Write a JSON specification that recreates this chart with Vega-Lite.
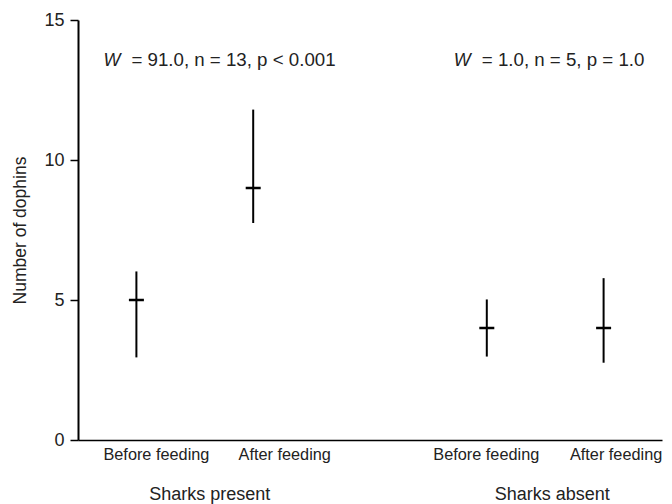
{
  "$schema": "https://vega.github.io/schema/vega-lite/v6.json",
  "width": 584,
  "height": 420,
  "autosize": {"type": "none"},
  "padding": {"left": 78, "top": 20, "right": 10, "bottom": 64},
  "background": "white",
  "config": {
    "view": {"stroke": null},
    "font": "Liberation Sans",
    "axis": {"grid": false, "domainColor": "#000", "tickColor": "#000", "labelColor": "#222", "titleColor": "#222", "labelFont": "Liberation Sans", "titleFont": "Liberation Sans", "titleFontWeight": "normal"}
  },
  "datasets": {
    "stats": [
      {"slot": "SP-B", "cond": "Before feeding", "group": "Sharks present", "median": 5, "low": 2.95, "high": 6.02},
      {"slot": "SP-A", "cond": "After feeding", "group": "Sharks present", "median": 9, "low": 7.75, "high": 11.8},
      {"slot": "SA-B", "cond": "Before feeding", "group": "Sharks absent", "median": 4, "low": 2.98, "high": 5.02},
      {"slot": "SA-A", "cond": "After feeding", "group": "Sharks absent", "median": 4, "low": 2.76, "high": 5.78}
    ],
    "groups": [
      {"slot": "SP-mid", "group": "Sharks present"},
      {"slot": "SA-mid", "group": "Sharks absent"}
    ],
    "notes": [
      {"slot": "SP-B", "w": "W", "stat": "= 91.0, n = 13, p < 0.001"},
      {"slot": "SA-B", "w": "W", "stat": "= 1.0, n = 5, p = 1.0"}
    ]
  },
  "encoding": {
    "x": {
      "field": "slot",
      "type": "nominal",
      "scale": {"type": "point", "padding": 1, "domain": ["SP-B", "SP-mid", "SP-A", "g1", "g2", "g3", "SA-B", "SA-mid", "SA-A"]},
      "axis": {
        "title": null,
        "ticks": false,
        "labelAngle": 0,
        "labelFontSize": 16.3,
        "labelPadding": 6,
        "domainWidth": 1.5,
        "labelOffset": {"condition": [
          {"test": "datum.value == 'SP-B'", "value": 19.5},
          {"test": "datum.value == 'SP-A'", "value": 31},
          {"test": "datum.value == 'SA-B'", "value": -1},
          {"test": "datum.value == 'SA-A'", "value": 12}
        ], "value": 0},
        "labelExpr": "(datum.value == 'SP-B' || datum.value == 'SA-B') ? 'Before feeding' : ((datum.value == 'SP-A' || datum.value == 'SA-A') ? 'After feeding' : '')"
      }
    }
  },
  "layer": [
    {
      "data": {"name": "stats"},
      "mark": {"type": "rule", "color": "#000", "strokeWidth": 2},
      "encoding": {
        "y": {"field": "low", "type": "quantitative", "scale": {"domain": [0, 15], "nice": false}, "axis": {"title": "Number of dophins", "values": [0, 5, 10, 15], "tickSize": 8, "tickWidth": 1.5, "domainWidth": 2, "labelFontSize": 18, "labelPadding": 6, "titleFontSize": 17.5, "titlePadding": 14}},
        "y2": {"field": "high"}
      }
    },
    {
      "data": {"name": "stats"},
      "mark": {"type": "tick", "color": "#000", "size": 15, "thickness": 2.5, "opacity": 1},
      "encoding": {
        "y": {"field": "median", "type": "quantitative"}
      }
    },
    {
      "data": {"name": "notes"},
      "mark": {"type": "text", "align": "left", "baseline": "alphabetic", "fontSize": 18, "fontStyle": "italic", "color": "#222", "dx": -33, "dy": 46},
      "encoding": {
        "y": {"datum": 15},
        "text": {"field": "w"}
      }
    },
    {
      "data": {"name": "notes"},
      "mark": {"type": "text", "align": "left", "baseline": "alphabetic", "fontSize": 18.7, "color": "#222", "dx": -5, "dy": 46},
      "encoding": {
        "y": {"datum": 15},
        "text": {"field": "stat"}
      }
    },
    {
      "data": {"name": "groups"},
      "transform": [{"filter": "datum.group == 'Sharks present'"}],
      "mark": {"type": "text", "align": "center", "baseline": "alphabetic", "fontSize": 18, "color": "#222", "dx": 15, "dy": 60},
      "encoding": {
        "y": {"datum": 0},
        "text": {"field": "group"}
      }
    },
    {
      "data": {"name": "groups"},
      "transform": [{"filter": "datum.group == 'Sharks absent'"}],
      "mark": {"type": "text", "align": "center", "baseline": "alphabetic", "fontSize": 18, "color": "#222", "dx": 7, "dy": 60},
      "encoding": {
        "y": {"datum": 0},
        "text": {"field": "group"}
      }
    }
  ]
}
